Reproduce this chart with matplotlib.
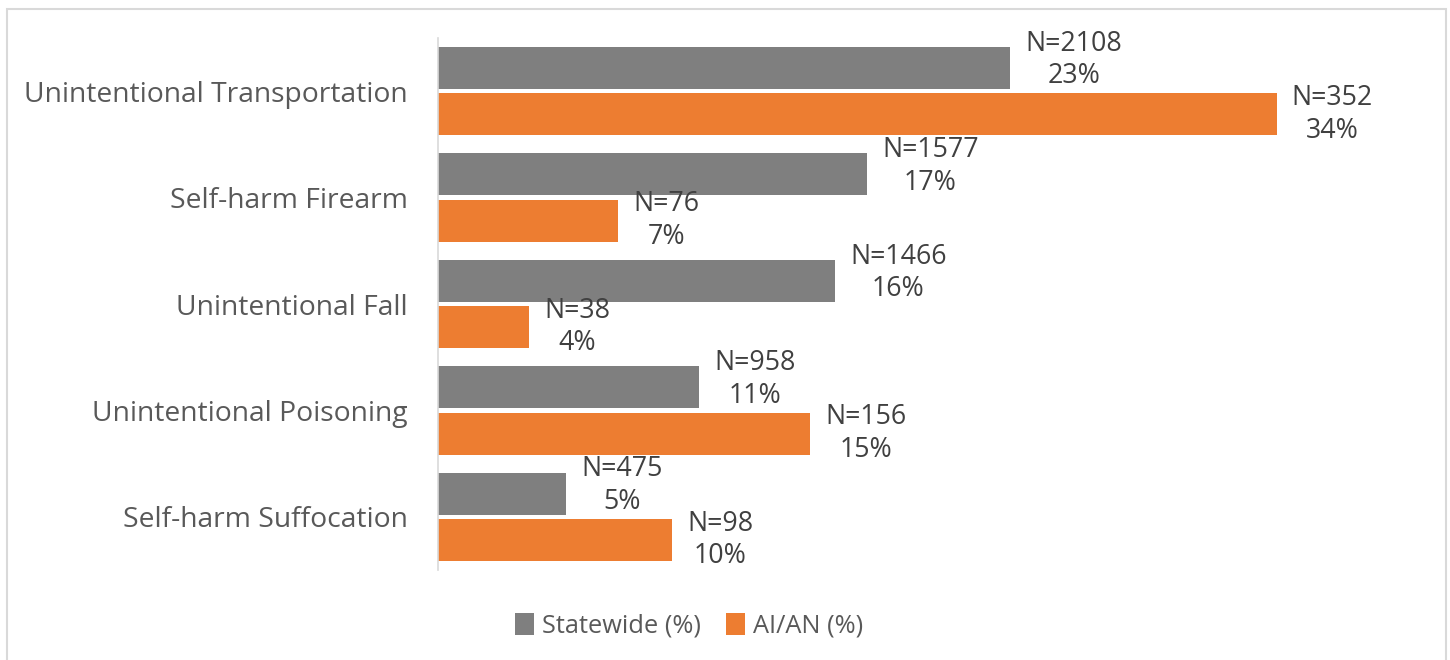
import matplotlib.pyplot as plt
import numpy as np
from matplotlib.patches import Rectangle

categories = [
    "Unintentional Transportation",
    "Self-harm Firearm",
    "Unintentional Fall",
    "Unintentional Poisoning",
    "Self-harm Suffocation",
]
statewide_pct = [23.2, 17.4, 16.1, 10.6, 5.2]
statewide_n = [2108, 1577, 1466, 958, 475]
aian_pct = [34.0, 7.3, 3.7, 15.1, 9.5]
aian_n = [352, 76, 38, 156, 98]

GRAY = "#7f7f7f"
ORANGE = "#ed7d31"
FONT = "Open Sans"

W, H = 1450, 660
fig = plt.figure(figsize=(W / 100, H / 100), dpi=100)
ax = fig.add_axes((438 / W, 1 - 570 / H, (1400 - 438) / W, 532 / H))

y = np.arange(len(categories))
bar_h = 0.395
ax.barh(y - bar_h / 2 - 0.02, statewide_pct, height=bar_h, color=GRAY, label="Statewide (%)")
ax.barh(y + bar_h / 2 + 0.02, aian_pct, height=bar_h, color=ORANGE, label="AI/AN (%)")

# data labels: N on first line, rounded share on second
for i in range(len(categories)):
    for pct, n, off, dy in ((statewide_pct[i], statewide_n[i], -1, 8),
                            (aian_pct[i], aian_n[i], 1, 0)):
        ax.annotate(
            f"N={n}\n{round(pct):d}%",
            xy=(pct, y[i] + off * (bar_h / 2 + 0.02)),
            xytext=(15, dy),
            textcoords="offset pixels",
            ha="left",
            va="center",
            multialignment="center",
            fontsize=19.3,
            color="#404040",
            family=FONT,
            linespacing=1.22,
        )

ax.set_ylim(len(categories) - 0.5, -0.5)
ax.set_xlim(0, 39)
ax.set_yticks(y)
ax.set_yticklabels(categories, fontsize=20.3, color="#595959", family=FONT)
ax.tick_params(axis="y", length=0, pad=22)
ax.set_xticks([])
for side in ("top", "right", "bottom"):
    ax.spines[side].set_visible(False)
ax.spines["left"].set_color("#d9d9d9")
ax.spines["left"].set_linewidth(1.2)

leg = fig.legend(
    loc="center",
    bbox_to_anchor=(689 / W, 1 - 626 / H),
    ncol=2,
    frameon=False,
    prop={"family": FONT, "size": 18.3},
    handlelength=0.75,
    handleheight=0.95,
    handletextpad=0.3,
    columnspacing=1.0,
)
for t in leg.get_texts():
    t.set_color("#595959")

fig.patches.append(
    Rectangle((7 / W, -0.01), (1446 - 7) / W, 1 - 9 / H + 0.01,
              transform=fig.transFigure, fill=False, edgecolor="#d9d9d9", linewidth=1.5)
)

fig.savefig("out.png", dpi=100, facecolor="white")
